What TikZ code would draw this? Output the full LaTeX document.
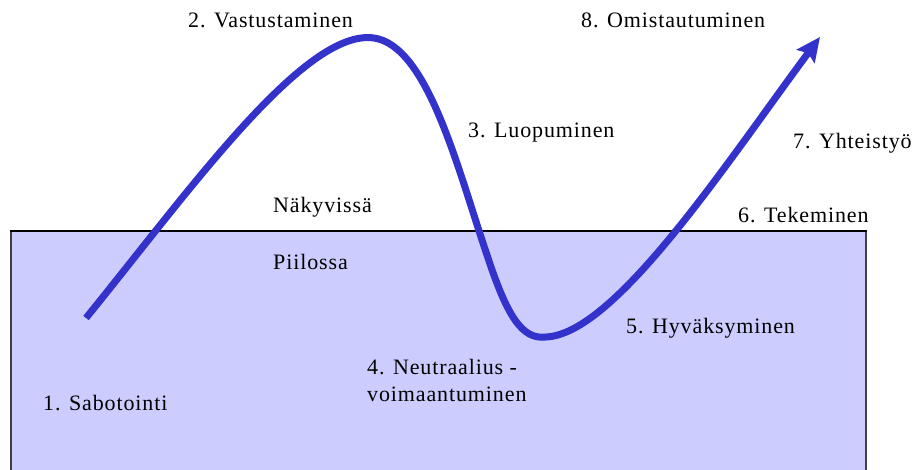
\documentclass[tikz,border=0pt]{standalone}
\usepackage{fontspec}
\setmainfont{Liberation Serif}[LetterSpace=4]
\usetikzlibrary{arrows.meta}
\definecolor{curveblue}{HTML}{3333CC}
\definecolor{hiddenfill}{HTML}{CCCCFF}
\definecolor{sidegray}{HTML}{404040}
\tikzset{
  lbl/.style={anchor=base west, inner sep=0pt, font=\fontsize{22}{27}\selectfont, text=black, align=left},
  curve/.style={line width=7pt, draw=curveblue, line cap=butt,
    -{Stealth[length=24pt, width=22pt, inset=4pt]}}
}
\begin{document}
\begin{tikzpicture}[x=1pt,y=-1pt]
\useasboundingbox (0,0) rectangle (913,470);
% hidden area
\fill[hiddenfill] (11,231) rectangle (866,472);
\draw[sidegray, line width=1.5pt] (11,472) -- (11,231);
\draw[sidegray, line width=1.5pt] (866,231) -- (866,472);
\draw[black, line width=2.5pt] (10,231) -- (867,231);
% curve points
\coordinate (s) at (86,318);
\coordinate (peak) at (374,38);
\coordinate (mid) at (487,255);
\coordinate (trough) at (546,337);
\coordinate (tip) at (820,37);
\draw[curve] (s) .. controls (190,190) and (305,28) .. (peak)
  .. controls (428,46) and (458,170) .. (mid)
  .. controls (507,316) and (522,340) .. (trough)
  .. controls (615,334) and (725,165) .. (tip);
% labels
\node[lbl] (l2) at (188,28) {2. Vastustaminen};
\node[lbl] (l8) at (581,28) {8. Omistautuminen};
\node[lbl] (l3) at (468,138) {3. Luopuminen};
\node[lbl] (l7) at (793,149) {7. Yhteistyö};
\node[lbl] (nak) at (273,213) {Näkyvissä};
\node[lbl] (l6) at (738,223) {6. Tekeminen};
\node[lbl] (pii) at (273,270) {Piilossa};
\node[lbl] (l5) at (626,334) {5. Hyväksyminen};
\node[lbl] (l1) at (43,410) {1. Sabotointi};
\node[lbl] (l4) at (367,401) {4. Neutraalius -\\voimaantuminen};
\end{tikzpicture}
\end{document}
